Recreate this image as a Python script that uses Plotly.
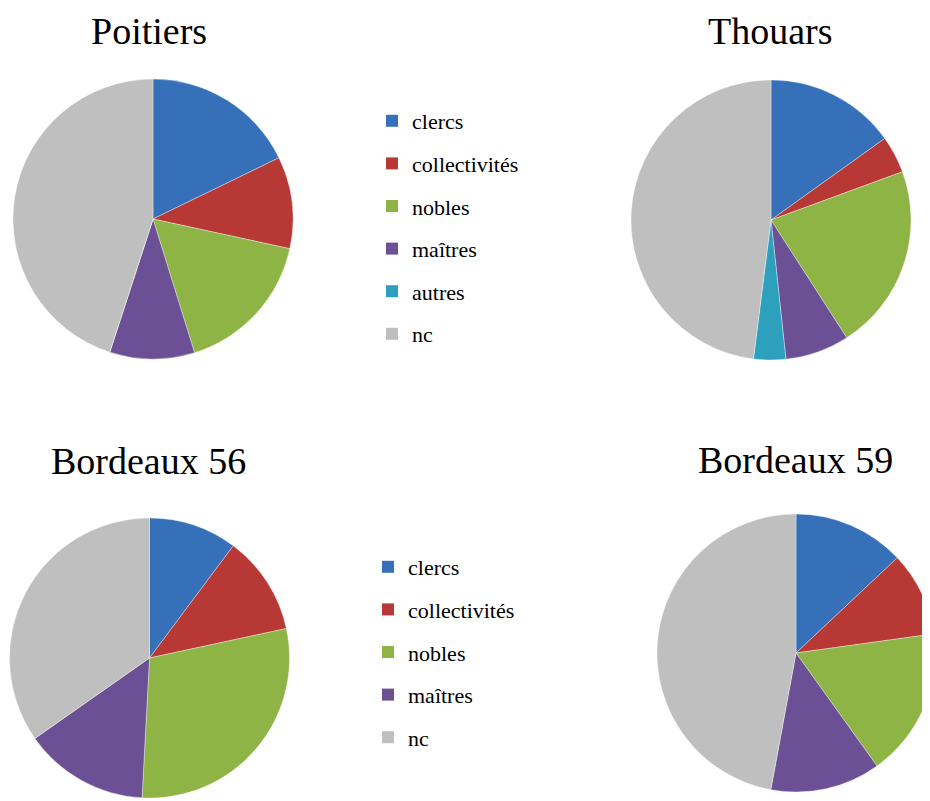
import plotly.graph_objects as go

categories = ["clercs", "collectivités", "nobles", "maîtres", "autres", "nc"]
categories_bx = ["clercs", "collectivités", "nobles", "maîtres", "nc"]

poitiers = [17.8, 10.6, 16.8, 9.8, 0.0, 45.0]
thouars = [15.1, 4.3, 21.5, 7.4, 3.7, 48.0]
bordeaux56 = [10.2, 11.4, 29.2, 14.4, 34.7]
bordeaux59 = [13.0, 9.8, 17.3, 12.8, 47.1]

colors = {
    "clercs": "#3670B9",
    "collectivités": "#B83835",
    "nobles": "#8FB446",
    "maîtres": "#6C5095",
    "autres": "#2DA0BE",
    "nc": "#BFBFBF",
}

W, H = 930, 801
OX, OY = 8, 8  # page body margin offset
FONT = "Liberation Serif"


def px(x):
    return (x - OX) / W


def py(y):
    return 1 - (y - OY) / H


def dom(cx, cy, r):
    return dict(x=[px(cx - r), px(cx + r)], y=[py(cy + r), py(cy - r)])


fig = go.Figure()

pies = [
    ("Poitiers", categories, poitiers, (153, 219, 140)),
    ("Thouars", categories, thouars, (771, 220, 140)),
    ("Bordeaux 56", categories_bx, bordeaux56, (149.5, 658, 140)),
    ("Bordeaux 59", categories_bx, bordeaux59, (796, 653, 139)),
]

for name, labs, vals, (cx, cy, r) in pies:
    fig.add_trace(go.Pie(
        labels=labs, values=vals, name=name,
        sort=False, direction="clockwise", rotation=0,
        textinfo="none", showlegend=False,
        marker=dict(colors=[colors[l] for l in labs], line=dict(color="rgba(255,255,255,0.6)", width=0.6)),
        domain=dom(cx, cy, r),
    ))

for lg, labs in (("legend", categories), ("legend2", categories_bx)):
    for l in labs:
        fig.add_trace(go.Scatter(
            x=[None], y=[None], mode="markers", name=l,
            marker=dict(symbol="square", size=12, color=colors[l]),
            legend=lg, legendgroup=lg + l, showlegend=True,
        ))

title_font = dict(family=FONT, size=38, color="#000000")
annotations = [
    dict(text="Poitiers", x=px(149), y=1, yanchor="top"),
    dict(text="Thouars", x=px(770), y=1, yanchor="top"),
    dict(text="Bordeaux 56", x=px(148), y=py(461), yanchor="middle"),
    dict(text="Bordeaux 59", x=px(795), y=py(460), yanchor="middle"),
]
for a in annotations:
    a.update(xref="paper", yref="paper", showarrow=False, xanchor="center", font=title_font)

leg_common = dict(font=dict(family=FONT, size=22, color="#000000"), bgcolor="rgba(0,0,0,0)",
                  traceorder="grouped", tracegroupgap=11, xanchor="left", yanchor="top", borderwidth=0)

fig.update_layout(
    width=W, height=H,
    margin=dict(l=0, r=0, t=0, b=0),
    paper_bgcolor="white", plot_bgcolor="white",
    xaxis=dict(visible=False), yaxis=dict(visible=False),
    annotations=annotations,
    legend=dict(x=px(372), y=py(100), **leg_common),
    legend2=dict(x=px(368), y=py(546), **leg_common),
)

fig.write_html("out.html")
